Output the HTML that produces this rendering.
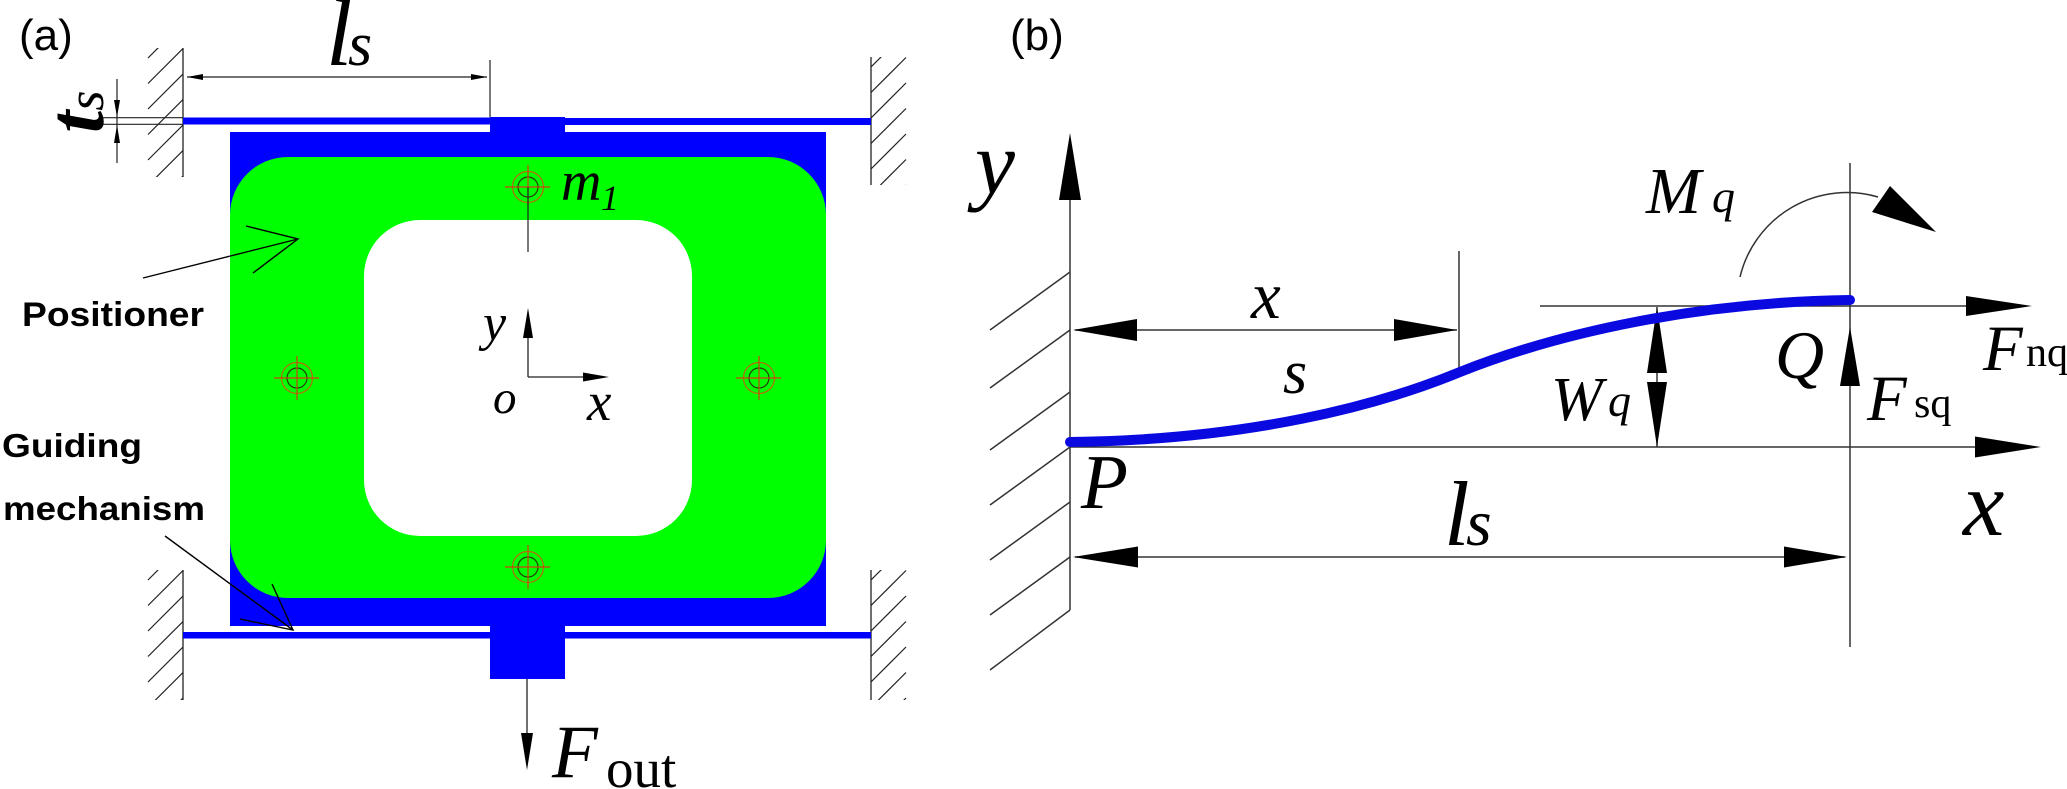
<!DOCTYPE html>
<html><head><meta charset="utf-8"><style>
html,body{margin:0;padding:0;background:#fff;}
svg{display:block;}
.it{font-family:"Liberation Serif",serif;font-style:italic;fill:#000;}
.rm{font-family:"Liberation Serif",serif;fill:#000;}
.sb{font-family:"Liberation Sans",sans-serif;font-weight:bold;fill:#000;}
.sa{font-family:"Liberation Sans",sans-serif;fill:#000;}
</style></head><body>
<svg width="2067" height="789" viewBox="0 0 2067 789" xmlns="http://www.w3.org/2000/svg">
<defs>
<clipPath id="w1"><rect x="146" y="48" width="37" height="129"/></clipPath>
<clipPath id="w2"><rect x="871" y="57" width="37" height="128"/></clipPath>
<clipPath id="w3"><rect x="146" y="570" width="37" height="130"/></clipPath>
<clipPath id="w4"><rect x="871" y="570" width="37" height="130"/></clipPath>
</defs>

<!-- ========== Panel (a) ========== -->
<text class="sa" x="19" y="50" font-size="44">(a)</text>

<!-- walls -->
<g stroke="#222" stroke-width="1.3">
<line x1="183" y1="48" x2="183" y2="177"/>
<line x1="871" y1="57" x2="871" y2="185"/>
<line x1="183" y1="570" x2="183" y2="700"/>
<line x1="871" y1="570" x2="871" y2="700"/>
</g>
<g stroke="#222" stroke-width="1.2" clip-path="url(#w1)">
<line x1="148" y1="58" x2="183" y2="23"/><line x1="148" y1="83.5" x2="183" y2="48.5"/>
<line x1="148" y1="109" x2="183" y2="74"/><line x1="148" y1="134.5" x2="183" y2="99.5"/>
<line x1="148" y1="160" x2="183" y2="125"/><line x1="148" y1="185.5" x2="183" y2="150.5"/>
<line x1="148" y1="211" x2="183" y2="176"/>
</g>
<g stroke="#222" stroke-width="1.2" clip-path="url(#w2)">
<line x1="871" y1="67" x2="906" y2="32"/><line x1="871" y1="92.5" x2="906" y2="57.5"/>
<line x1="871" y1="118" x2="906" y2="83"/><line x1="871" y1="143.5" x2="906" y2="108.5"/>
<line x1="871" y1="169" x2="906" y2="134"/><line x1="871" y1="194.5" x2="906" y2="159.5"/>
<line x1="871" y1="220" x2="906" y2="185"/>
</g>
<g stroke="#222" stroke-width="1.2" clip-path="url(#w3)">
<line x1="148" y1="580" x2="183" y2="545"/><line x1="148" y1="605.5" x2="183" y2="570.5"/>
<line x1="148" y1="631" x2="183" y2="596"/><line x1="148" y1="656.5" x2="183" y2="621.5"/>
<line x1="148" y1="682" x2="183" y2="647"/><line x1="148" y1="707.5" x2="183" y2="672.5"/>
<line x1="148" y1="733" x2="183" y2="698"/>
</g>
<g stroke="#222" stroke-width="1.2" clip-path="url(#w4)">
<line x1="871" y1="580" x2="906" y2="545"/><line x1="871" y1="605.5" x2="906" y2="570.5"/>
<line x1="871" y1="631" x2="906" y2="596"/><line x1="871" y1="656.5" x2="906" y2="621.5"/>
<line x1="871" y1="682" x2="906" y2="647"/><line x1="871" y1="707.5" x2="906" y2="672.5"/>
<line x1="871" y1="733" x2="906" y2="698"/>
</g>

<!-- frame -->
<rect x="230" y="132" width="596" height="494" fill="#0000ff"/>
<rect x="230" y="157" width="596" height="441" rx="58" ry="58" fill="#00ff00"/>
<rect x="364" y="220" width="328" height="316" rx="56" ry="56" fill="#ffffff"/>

<!-- beams -->
<g fill="#0000ff">
<rect x="183" y="117.5" width="307" height="7"/>
<rect x="565" y="118" width="306" height="7"/>
<rect x="490" y="117" width="75" height="16"/>
<rect x="183" y="632" width="307" height="6.5"/>
<rect x="565" y="632" width="306" height="6.5"/>
<rect x="490" y="625" width="75" height="54"/>
</g>

<!-- ts dimension -->
<g stroke="#222" stroke-width="1.2">
<line x1="100" y1="117.7" x2="183" y2="117.7"/>
<line x1="100" y1="124.3" x2="183" y2="124.3"/>
<line x1="117" y1="79" x2="117" y2="163"/>
</g>
<polygon points="117,117 114,100 120,100" fill="#000"/>
<polygon points="117,125 114,143 120,143" fill="#000"/>
<text class="it" transform="translate(103,133) rotate(-90)"><tspan font-size="80" font-weight="bold">t</tspan><tspan font-size="52">s</tspan></text>

<!-- ls dimension (a) -->
<g stroke="#222" stroke-width="1.2">
<line x1="187" y1="77" x2="487" y2="77"/>
<line x1="490" y1="60" x2="490" y2="117"/>
</g>
<polygon points="187,77 203,74 203,80" fill="#000"/>
<polygon points="487,77 471,74 471,80" fill="#000"/>
<text class="it" x="326" y="65" font-size="95">l</text>
<text class="it" x="348" y="65" font-size="62">s</text>

<!-- targets -->
<g fill="none" stroke-width="1.2">
<g transform="translate(528,187)"><circle r="15.5" stroke="#b86a10"/><circle r="10" stroke="#2a3a00"/><line x1="-23" y1="0" x2="22" y2="0" stroke="#d04010"/><line x1="0" y1="-22" x2="0" y2="22" stroke="#d04010"/></g>
<g transform="translate(297,378)"><circle r="15.5" stroke="#b86a10"/><circle r="10" stroke="#2a3a00"/><line x1="-23" y1="0" x2="22" y2="0" stroke="#d04010"/><line x1="0" y1="-22" x2="0" y2="22" stroke="#d04010"/></g>
<g transform="translate(759,378)"><circle r="15.5" stroke="#b86a10"/><circle r="10" stroke="#2a3a00"/><line x1="-23" y1="0" x2="22" y2="0" stroke="#d04010"/><line x1="0" y1="-22" x2="0" y2="22" stroke="#d04010"/></g>
<g transform="translate(528,567)"><circle r="15.5" stroke="#b86a10"/><circle r="10" stroke="#2a3a00"/><line x1="-23" y1="0" x2="22" y2="0" stroke="#d04010"/><line x1="0" y1="-22" x2="0" y2="22" stroke="#d04010"/></g>
</g>
<text class="it" x="561" y="200" font-size="56">m</text>
<text class="it" x="601" y="210" font-size="36">1</text>
<line x1="528" y1="187" x2="528" y2="252" stroke="#222" stroke-width="1.2"/>

<!-- local axes -->
<g stroke="#222" stroke-width="1.3">
<line x1="528" y1="335" x2="528" y2="377"/>
<line x1="528" y1="377" x2="585" y2="377"/>
<line x1="527" y1="679" x2="527" y2="735"/>
</g>
<polygon points="528,308 523,338 533,338" fill="#000"/>
<polygon points="609,377 583,372.5 583,381.5" fill="#000"/>
<polygon points="527,770 521,733 533,733" fill="#000"/>
<text class="it" x="483" y="340" font-size="52">y</text>
<text class="it" x="493" y="413" font-size="47">o</text>
<text class="it" x="587" y="420" font-size="55">x</text>
<text class="it" x="552" y="777" font-size="75">F</text>
<text class="rm" x="606" y="787" font-size="55">out</text>

<!-- labels (a) -->
<text class="sb" x="22" y="326" font-size="34" textLength="182" lengthAdjust="spacingAndGlyphs">Positioner</text>
<text class="sb" x="2" y="457" font-size="33" textLength="140" lengthAdjust="spacingAndGlyphs">Guiding</text>
<text class="sb" x="3" y="520" font-size="33" textLength="202" lengthAdjust="spacingAndGlyphs">mechanism</text>
<g stroke="#000" stroke-width="1.4" fill="none">
<line x1="143" y1="278" x2="298" y2="239"/>
<polyline points="246,226 298,239 253,273"/>
<line x1="165" y1="536" x2="293" y2="630"/>
<polyline points="272,584 293,630 240,619"/>
</g>

<!-- ========== Panel (b) ========== -->
<text class="sa" x="1010" y="50" font-size="44">(b)</text>

<g stroke="#333" stroke-width="1.5" fill="none">
<line x1="1070" y1="195" x2="1070" y2="610"/>
<line x1="990" y1="330" x2="1070" y2="272"/>
<line x1="990" y1="388" x2="1070" y2="330"/>
<line x1="990" y1="450" x2="1070" y2="392"/>
<line x1="990" y1="505" x2="1070" y2="447"/>
<line x1="990" y1="560" x2="1070" y2="502"/>
<line x1="990" y1="615" x2="1070" y2="557"/>
<line x1="990" y1="670" x2="1070" y2="610"/>
<!-- x dimension -->
<line x1="1075" y1="330" x2="1457" y2="330"/>
<line x1="1459" y1="251" x2="1459" y2="370"/>
<!-- x axis -->
<line x1="1070" y1="447" x2="1980" y2="447"/>
<!-- Q lines -->
<line x1="1540" y1="306" x2="1970" y2="306"/>
<line x1="1850" y1="163" x2="1850" y2="647"/>
<!-- wq -->
<line x1="1657" y1="307" x2="1657" y2="447"/>
<!-- ls dim -->
<line x1="1075" y1="557" x2="1845" y2="557"/>
<!-- moment arc -->
<path d="M1740,277 A110,110 0 0 1 1878,197"/>
</g>
<g fill="#000">
<polygon points="1070,133 1059,200 1081,200"/>
<polygon points="1073,330 1137,319 1137,341"/>
<polygon points="1457,330 1394,319 1394,341"/>
<polygon points="2041,447 1975,436.5 1975,457.5"/>
<polygon points="2032,306 1966,296 1966,316"/>
<polygon points="1850,327 1840,386 1860,386"/>
<polygon points="1657,307 1647,373 1667,373"/>
<polygon points="1657,447 1647,382 1667,382"/>
<polygon points="1073,557 1138,546.5 1138,567.5"/>
<polygon points="1847,557 1784,546.5 1784,567.5"/>
<polygon points="1872,212 1890,186 1936,232"/>
</g>

<!-- deflected beam -->
<path d="M1070,442 C1250,440 1380,405 1460,372 C1560,332 1700,302 1850,300" fill="none" stroke="#0a0ae0" stroke-width="10" stroke-linecap="round"/>

<!-- labels (b) -->
<text class="it" x="975" y="193" font-size="90">y</text>
<text class="it" x="1251" y="318" font-size="67">x</text>
<text class="it" x="1283" y="393" font-size="62">s</text>
<text class="it" x="1081" y="508" font-size="77">P</text>
<text class="it" x="1444" y="545" font-size="92">l</text>
<text class="it" x="1466" y="545" font-size="66">s</text>
<text class="it" x="1551" y="420" font-size="62">W</text>
<text class="it" x="1608" y="416" font-size="46">q</text>
<text class="it" x="1646" y="213" font-size="66">M</text>
<text class="it" x="1712" y="212" font-size="46">q</text>
<text class="it" x="1775" y="378" font-size="68">Q</text>
<text class="it" x="1867" y="420" font-size="65">F</text>
<text class="rm" x="1914" y="417" font-size="42">sq</text>
<text class="it" x="1983" y="370" font-size="65">F</text>
<text class="rm" x="2026" y="366" font-size="42">nq</text>
<text class="it" x="1963" y="535" font-size="93">x</text>
</svg>
</body></html>
